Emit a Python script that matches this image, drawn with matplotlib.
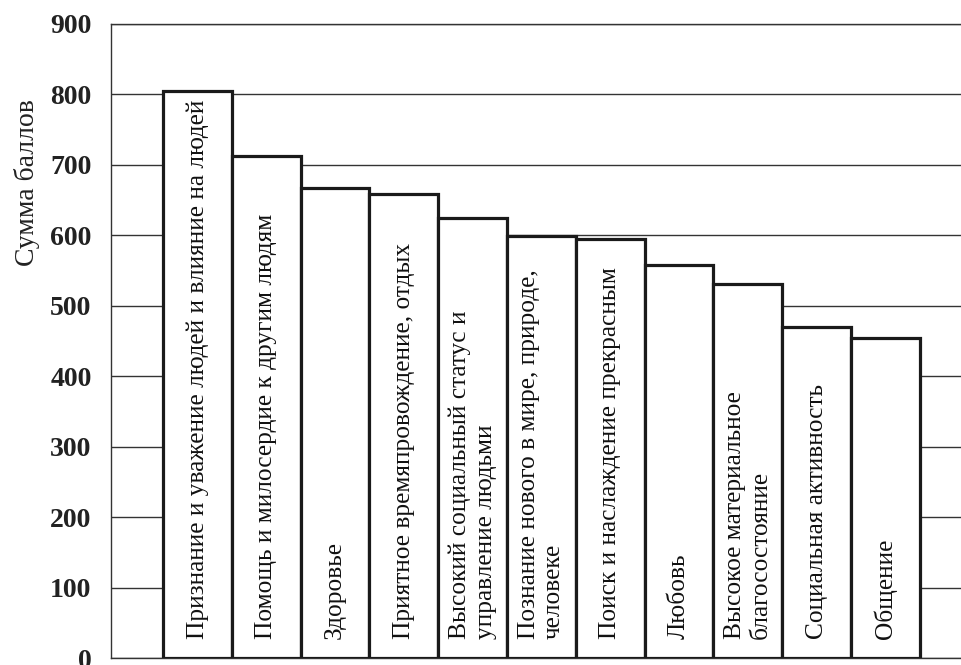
import numpy as np
import matplotlib
matplotlib.use("Agg")
import matplotlib.pyplot as plt

# values
categories = [
	"Признание и уважение людей и влияние на людей",
	"Помощь и милосердие к другим людям",
	"Здоровье",
	"Приятное времяпровождение, отдых",
	"Высокий социальный статус и\nуправление людьми",
	"Познание нового в мире, природе,\nчеловеке",
	"Поиск и наслаждение прекрасным",
	"Любовь",
	"Высокое материальное\nблагосостояние",
	"Социальная активность",
	"Общение",
]
scores = [805, 713, 667, 659, 625, 599, 595, 558, 531, 470, 454]
yticks = [0, 100, 200, 300, 400, 500, 600, 700, 800, 900]

plt.rcParams["font.family"] = ["Liberation Serif", "DejaVu Serif"]

fig = plt.figure(figsize = (9.61, 6.65), dpi = 100)
ax = fig.add_axes([0.1155, 0.0105, 0.8845, 0.9535])

x = np.arange(len(scores))
ax.bar(x, scores, width = 1.0, color = "white", edgecolor = "#1a1a1a", linewidth = 2.3, zorder = 3)

for i, label in enumerate(categories):
	ax.text(x[i], 27, label, rotation = 90, ha = "center", va = "bottom",
		multialignment = "left", fontsize = 18.3, color = "#111111", zorder = 4,
		linespacing = 1.2)

ax.set_xlim(-1.256, 11.1)
ax.set_ylim(0, 900)
ax.set_yticks(yticks)
ax.set_yticklabels([str(v) for v in yticks], fontsize = 20, fontweight = "bold", color = "#222222")
ax.set_xticks([])
ax.tick_params(axis = "y", length = 0, pad = 14)
ax.yaxis.grid(True, color = "#333333", linewidth = 1.0, zorder = 0)

for side in ["left", "top", "bottom"]:
	ax.spines[side].set_color("#333333")
	ax.spines[side].set_linewidth(1.0)
ax.spines["right"].set_visible(False)

ax.set_ylabel("Сумма баллов", fontsize = 20, color = "#222222")
ax.yaxis.set_label_coords(-0.083, 0.75)

plt.savefig("out.png", dpi = 100)
